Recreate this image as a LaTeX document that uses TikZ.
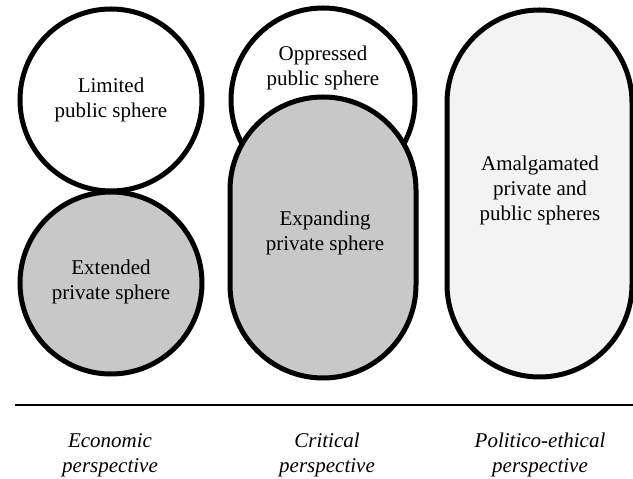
\documentclass[tikz,border=0pt]{standalone}
\usepackage{fontspec}
\setmainfont{Liberation Serif}
\definecolor{midgray}{HTML}{C8C8C8}
\definecolor{palegray}{HTML}{F3F3F3}
\tikzset{
  sphere/.style={line width=5pt},
  lbl/.style={align=center, font=\fontsize{21}{25}\selectfont, inner sep=0pt},
  persp/.style={align=center, font=\fontsize{21}{25}\selectfont\itshape, inner sep=0pt}
}
\begin{document}
\begin{tikzpicture}[x=1pt,y=1pt]
\useasboundingbox (0,0) rectangle (633,479);
% left column
\draw[sphere, fill=white] (111,379) circle (91);
\draw[sphere, fill=midgray] (111,196) circle (91);
% middle column
\draw[sphere, fill=white] (323,379) circle (92);
\draw[sphere, fill=midgray] (230,289) arc[start angle=180, end angle=0, radius=93] -- (416,194) arc[start angle=0, end angle=-180, radius=93] -- cycle;
% right column
\draw[sphere, fill=palegray] (447,376.5) arc[start angle=180, end angle=0, radius=92.5] -- (632,194.5) arc[start angle=0, end angle=-180, radius=92.5] -- cycle;
% labels
\node[lbl] (limited) at (111,379) {Limited\\public sphere};
\node[lbl] (extended) at (111,197) {Extended\\private sphere};
\node[lbl] (oppressed) at (323,411) {Oppressed\\public sphere};
\node[lbl] (expanding) at (325,246) {Expanding\\private sphere};
\node[lbl] (amalg) at (540,289) {Amalgamated\\private and\\public spheres};
% axis line
\coordinate (la) at (15,74);
\coordinate (lb) at (633,74);
\draw[line width=1.5pt] (la) -- (lb);
% perspectives
\node[persp] (econ) at (110,24) {Economic\\perspective};
\node[persp] (crit) at (327,24) {Critical\\perspective};
\node[persp] (polit) at (540,24) {Politico-ethical\\perspective};
\end{tikzpicture}
\end{document}
